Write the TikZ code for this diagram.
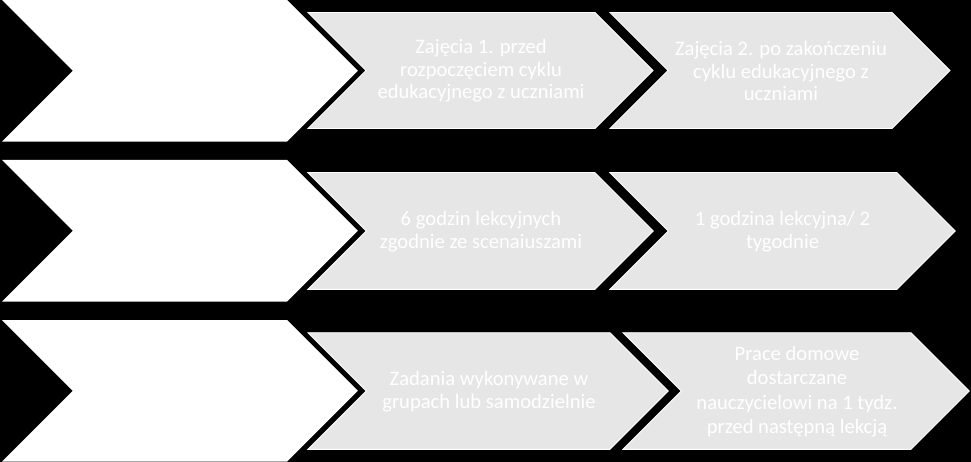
\documentclass[tikz,border=0pt]{standalone}
\usepackage{fontspec}
\setmainfont{Carlito}
\definecolor{chevgrey}{RGB}{230,230,230}
\tikzset{
  whitechev/.style={fill=white, draw=none},
  greychev/.style={fill=chevgrey, draw=white, line width=0.9pt, line join=miter},
  chevtext/.style={text=white, font=\fontsize{20.6}{22.5}\selectfont, align=center, inner sep=0pt},
  chevtextwide/.style={chevtext, font=\fontsize{20.6}{24.5}\selectfont},
}
% #1 style, #2 left x, #3 top-right x, #4 top y, #5 height
\newcommand\mychev[5]{%
  \path[#1] (#2,#4) -- (#3,#4) -- ({#3+#5/2},{#4+#5/2}) -- (#3,{#4+#5}) -- (#2,{#4+#5}) -- ({#2+#5/2},{#4+#5/2}) -- cycle;}
\begin{document}
\begin{tikzpicture}[x=1pt,y=-1pt]
  \fill[black] (0,0) rectangle (971,462);
  \useasboundingbox (0,0) rectangle (971,462);
  % row 1
  \mychev{whitechev}{2}{287}{0}{141.7}
  \mychev{greychev}{308}{595}{12.5}{116}
  \mychev{greychev}{610}{892}{12.5}{116}
  \node[chevtext] (t11) at (481,71) {Zajęcia 1. przed\\rozpoczęciem cyklu\\edukacyjnego z uczniami};
  \node[chevtext] (t12) at (781,71) {Zajęcia 2. po zakończeniu\\cyklu edukacyjnego z\\uczniami};
  % row 2
  \mychev{whitechev}{2}{287}{160}{141.7}
  \mychev{greychev}{308}{595}{172.7}{116.6}
  \mychev{greychev}{610}{897}{172.7}{116.6}
  \node[chevtext] (t21) at (481,231.5) {6 godzin lekcyjnych\\zgodnie ze scenaiuszami};
  \node[chevtext] (t22) at (782.5,231.5) {1 godzina lekcyjna/ 2\\tygodnie};
  % row 3
  \mychev{whitechev}{2}{287}{320}{141.7}
  \mychev{greychev}{308}{610}{332.7}{116.6}
  \mychev{greychev}{623}{911}{332.7}{116.6}
  \node[chevtext] (t31) at (489,391.5) {Zadania wykonywane w\\grupach lub samodzielnie};
  \node[chevtextwide] (t32) at (797,391.5) {Prace domowe\\dostarczane\\nauczycielowi na 1 tydz.\\przed następną lekcją};
\end{tikzpicture}
\end{document}
